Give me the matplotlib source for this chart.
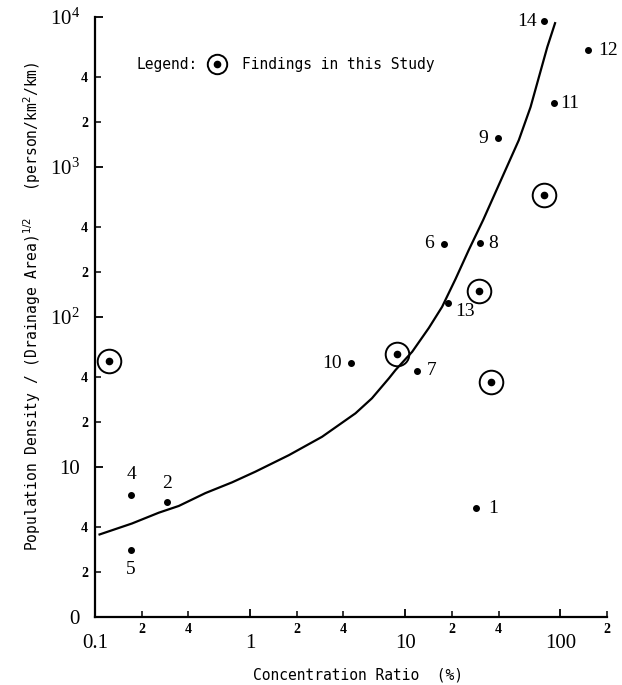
import matplotlib
matplotlib.use('Agg')
import matplotlib.pyplot as plt
from matplotlib.ticker import FixedLocator, FixedFormatter
from matplotlib.lines import Line2D
from matplotlib.legend_handler import HandlerTuple

plt.rcParams['mathtext.fontset'] = 'custom'
plt.rcParams['mathtext.rm'] = 'Liberation Serif'
plt.rcParams['mathtext.it'] = 'Liberation Serif:italic'
plt.rcParams['mathtext.bf'] = 'Liberation Serif:bold'

# ---------------- data ----------------
point_ids = ['1', '2', '4', '5', '6', '7', '8', '9', '10', '11', '12', '13', '14']
point_x = [28.5, 0.29, 0.171, 0.171, 17.8, 11.9, 30.5, 39.8, 4.5, 91, 151, 18.9, 79]
point_y = [5.3, 5.8, 6.5, 2.8, 307, 43.7, 310, 1560, 49, 2670, 6000, 124, 9400]

study_x = [0.123, 8.8, 30, 36, 79]
study_y = [51, 57, 149, 37, 650]

curve_x = [0.107, 0.173, 0.258, 0.347, 0.515, 0.765, 1.08, 1.78, 2.91, 4.78, 6.1,
           7.85, 8.66, 11.1, 14.2, 17.3, 21.1, 25.7, 31.8, 42.3, 54, 64.3, 72.8,
           82.4, 92.5]
curve_y = [3.55, 4.2, 4.96, 5.5, 6.7, 7.9, 9.3, 12.0, 15.9, 22.8, 28.7, 39, 44.3,
           58.7, 84.5, 117, 179, 280, 443, 858, 1510, 2510, 3980, 6300, 9100]

x_major_ticks = [0.1, 1, 10, 100]
x_major_labels = ['0.1', '1', '10', '100']
x_minor_ticks = [0.2, 0.4, 2, 4, 20, 40, 200]
x_minor_labels = ['2', '4', '2', '4', '2', '4', '2']
y_major_ticks = [1, 10, 100, 1000, 10000]
y_major_labels = ['0', '10', '$10^{2}$', '$10^{3}$', '$10^{4}$']
y_minor_ticks = [2, 4, 20, 40, 200, 400, 2000, 4000]
y_minor_labels = ['2', '4', '2', '4', '2', '4', '2', '4']

# label placement (style): offset in pixels and alignment
label_style = {
    '1': (12, 0, 'left'), '2': (0, 19, 'center'), '4': (0, 21, 'center'),
    '5': (0, -20, 'center'), '6': (-10, 0, 'right'), '7': (10, 0, 'left'),
    '8': (8, 0, 'left'), '9': (-10, 0, 'right'), '10': (-10, 0, 'right'),
    '11': (6, 0, 'left'), '12': (10, 0, 'left'), '13': (7, -9, 'left'),
    '14': (-8, 0, 'right'),
}

# ---------------- figure ----------------
fig = plt.figure(figsize=(6.22, 6.85), dpi=100)
ax = fig.add_axes([95 / 622, 68 / 685, 512 / 622, 600 / 685])
ax.set_xscale('log')
ax.set_yscale('log')
ax.set_xlim(0.1, 200)
ax.set_ylim(1, 10000)

for s in ['top', 'right']:
    ax.spines[s].set_visible(False)
for s in ['left', 'bottom']:
    ax.spines[s].set_linewidth(1.6)

serif = 'Liberation Serif'
mono = 'DejaVu Sans Mono'

ax.xaxis.set_major_locator(FixedLocator(x_major_ticks))
ax.xaxis.set_major_formatter(FixedFormatter(x_major_labels))
ax.xaxis.set_minor_locator(FixedLocator(x_minor_ticks))
ax.xaxis.set_minor_formatter(FixedFormatter(x_minor_labels))
ax.yaxis.set_major_locator(FixedLocator(y_major_ticks))
ax.yaxis.set_major_formatter(FixedFormatter(y_major_labels))
ax.yaxis.set_minor_locator(FixedLocator(y_minor_ticks))
ax.yaxis.set_minor_formatter(FixedFormatter(y_minor_labels))

ax.tick_params(axis='both', which='major', direction='in', length=6, width=1.3,
               labelsize=15)
ax.tick_params(axis='both', which='minor', direction='in', length=4, width=1.1,
               labelsize=10)
ax.tick_params(axis='x', which='major', pad=12)
ax.tick_params(axis='x', which='minor', pad=4)
ax.tick_params(axis='y', which='major', pad=11)
ax.tick_params(axis='y', which='minor', pad=5)
for lab in ax.get_xticklabels(which='both') + ax.get_yticklabels(which='both'):
    lab.set_fontfamily(serif)
for lab in ax.get_xticklabels(which='minor') + ax.get_yticklabels(which='minor'):
    lab.set_fontweight('bold')

# curve
ax.plot(curve_x, curve_y, color='black', lw=1.6, zorder=2)

# numbered points
ax.plot(point_x, point_y, 'o', color='black', ms=4, zorder=3, linestyle='none')
for pid, px, py in zip(point_ids, point_x, point_y):
    dx, dy, ha = label_style[pid]
    ax.annotate(pid, (px, py), xytext=(dx, dy), textcoords='offset pixels',
                ha=ha, va='center', fontsize=14, fontfamily=serif)

# findings of this study
ax.plot(study_x, study_y, 'o', mfc='none', mec='black', mew=1.4, ms=17,
        linestyle='none', zorder=3)
ax.plot(study_x, study_y, 'o', color='black', ms=4.5, linestyle='none', zorder=3)

# legend
ring = Line2D([], [], marker='o', mfc='none', mec='black', mew=1.4, ms=14,
              linestyle='none')
dot = Line2D([], [], marker='o', color='black', ms=4.5, linestyle='none')
leg = ax.legend([(ring, dot)], ['Findings in this Study'],
                handler_map={tuple: HandlerTuple(ndivide=1)},
                loc='center left', bbox_to_anchor=(0.219, 0.92),
                frameon=False, borderpad=0, borderaxespad=0,
                handlelength=1.4, handletextpad=1.0,
                prop={'family': mono, 'size': 10.5})
ax.text(0.082, 0.92, 'Legend:', transform=ax.transAxes, ha='left', va='center',
        fontsize=10.5, fontfamily=mono)

# axis labels
fig.text(358 / 622, 1 - 675 / 685, 'Concentration Ratio  (%)', ha='center',
         va='center', fontsize=10.5, fontfamily=mono)
fig.text(32 / 622, 1 - 306 / 685,
         'Population Density / (Drainage Area)$^{1/2}$   (person/km$^{2}$/km)',
         ha='center', va='center', rotation=90, fontsize=10.5, fontfamily=mono,
         math_fontfamily='dejavusans')

fig.savefig('out.png', dpi=100, facecolor='white')
